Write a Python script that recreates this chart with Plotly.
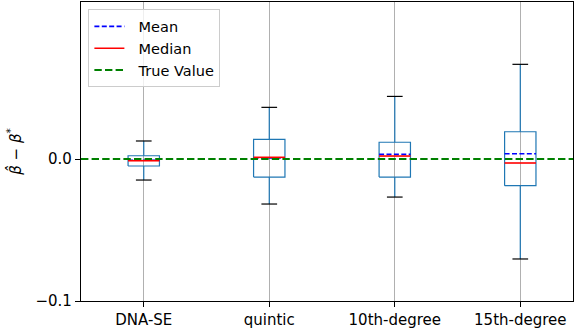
import plotly.graph_objects as go

categories = ["DNA-SE", "quintic", "10th-degree", "15th-degree"]
positions = [1, 2, 3, 4]
whisker_low = [-0.0148, -0.0317, -0.0268, -0.0704]
q1 = [-0.0049, -0.0127, -0.0127, -0.0188]
medians = [-0.0012, 0.0012, 0.0021, -0.0028]
means = [-0.0009, 0.0007, 0.0033, 0.0037]
q3 = [0.0023, 0.0139, 0.0118, 0.0192]
whisker_high = [0.0127, 0.0364, 0.0441, 0.0667]
true_value = 0.0

BOX_HALF = 0.125
CAP_HALF = 0.0625
X_RANGE = [0.5, 4.42]
C0 = "#1f77b4"

fig = go.Figure()

for i, p in enumerate(positions):
    fig.add_trace(go.Scatter(
        x=[p - BOX_HALF, p + BOX_HALF, p + BOX_HALF, p - BOX_HALF, p - BOX_HALF],
        y=[q1[i], q1[i], q3[i], q3[i], q1[i]],
        mode="lines", line=dict(color=C0, width=1.2), showlegend=False, hoverinfo="skip"))
    fig.add_trace(go.Scatter(
        x=[p, p, None, p, p],
        y=[q1[i], whisker_low[i], None, q3[i], whisker_high[i]],
        mode="lines", line=dict(color=C0, width=1.2), showlegend=False, hoverinfo="skip"))
    fig.add_trace(go.Scatter(
        x=[p - CAP_HALF, p + CAP_HALF, None, p - CAP_HALF, p + CAP_HALF],
        y=[whisker_low[i], whisker_low[i], None, whisker_high[i], whisker_high[i]],
        mode="lines", line=dict(color="black", width=1.2), showlegend=False, hoverinfo="skip"))

mx, my = [], []
for i, p in enumerate(positions):
    mx += [p - BOX_HALF, p + BOX_HALF, None]
    my += [medians[i], medians[i], None]
ax_, ay = [], []
for i, p in enumerate(positions):
    ax_ += [p - BOX_HALF, p + BOX_HALF, None]
    ay += [means[i], means[i], None]

fig.add_trace(go.Scatter(x=ax_, y=ay, mode="lines", name="&nbsp;&nbsp;Mean",
                         line=dict(color="blue", width=1.6, dash="5px,2.4px"), hoverinfo="skip"))
fig.add_trace(go.Scatter(x=mx, y=my, mode="lines", name="&nbsp;&nbsp;Median",
                         line=dict(color="red", width=1.6), hoverinfo="skip"))
fig.add_trace(go.Scatter(x=X_RANGE, y=[true_value, true_value], mode="lines", name="&nbsp;&nbsp;True Value",
                         line=dict(color="green", width=2, dash="7.4px,3.2px"), hoverinfo="skip"))

fig.update_layout(
    width=574, height=333,
    margin=dict(l=81, r=1, t=2, b=32),
    plot_bgcolor="white", paper_bgcolor="white",
    font=dict(family="DejaVu Sans", size=15, color="black"),
    showlegend=True,
    legend=dict(x=0.015, y=0.975, xanchor="left", yanchor="top",
                bgcolor="rgba(255,255,255,0.8)", bordercolor="#cccccc", borderwidth=1,
                font=dict(size=14.5), itemwidth=30, tracegroupgap=0),
    xaxis=dict(range=X_RANGE, tickvals=positions, ticktext=categories,
               showgrid=True, gridcolor="#b0b0b0", gridwidth=1, zeroline=False,
               showline=True, linecolor="black", linewidth=1.2, mirror=True,
               ticks="outside", ticklen=5, tickcolor="black"),
    yaxis=dict(range=[-0.1, 0.1106], tickvals=[-0.1, 0.0], ticktext=["−0.1", "0.0"],
               showgrid=False, zeroline=False,
               showline=True, linecolor="black", linewidth=1.2, mirror=True,
               ticks="outside", ticklen=5, tickcolor="black",
               title=dict(text="<i>β̂</i> − <i>β</i><sup>*</sup>", standoff=10, font=dict(size=15))),
)

fig.write_html("out.html")
